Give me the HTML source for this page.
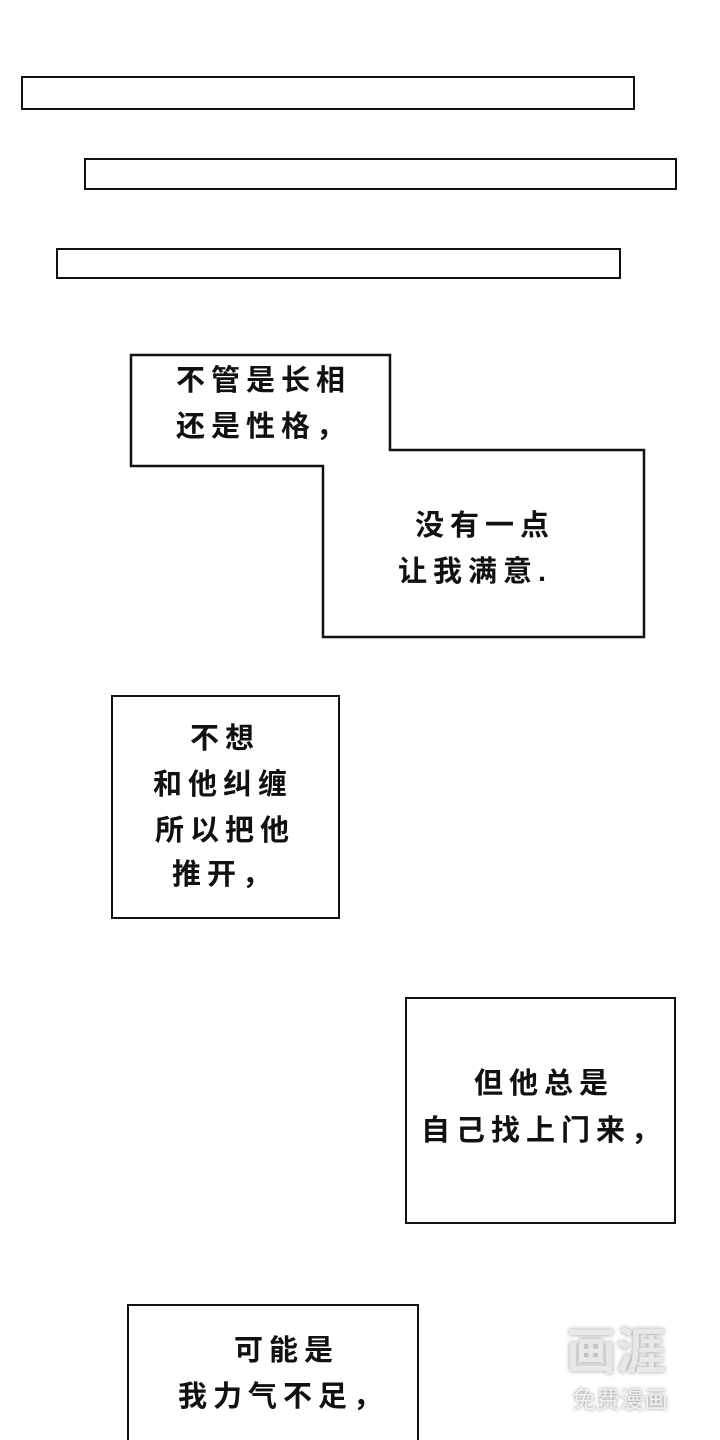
<!DOCTYPE html>
<html><head><meta charset="utf-8"><style>
html,body{margin:0;padding:0;background:#fff;width:720px;height:1440px;overflow:hidden;}
body{position:relative;font-family:"Liberation Sans","Noto Sans CJK SC",sans-serif;}
.b{position:absolute;border:2.5px solid #111;box-sizing:border-box;background:#fff;}
.t{position:absolute;font-size:29px;font-weight:bold;color:#111;line-height:46px;white-space:nowrap;letter-spacing:6px;}
</style></head><body>
<div class="b" style="left:21px;top:76px;width:614px;height:34px"></div>
<div class="b" style="left:84px;top:158px;width:593px;height:32px"></div>
<div class="b" style="left:56px;top:248px;width:565px;height:31px"></div>
<svg style="position:absolute;left:0;top:0" width="720" height="700">
<polygon points="131,355 390,355 390,450 644,450 644,637 323,637 323,466 131,466" fill="#fff" stroke="#111" stroke-width="2.5"/>
</svg>
<div class="t" style="left:176px;top:358px">不管是长相<br>还是性格，</div>
<div class="t" style="left:415px;top:503px">没有一点</div>
<div class="t" style="left:398px;top:549px">让我满意.</div>
<div class="b" style="left:111px;top:695px;width:229px;height:224px"></div>
<div class="t" style="left:190px;top:716px">不想</div>
<div class="t" style="left:153px;top:762px">和他纠缠</div>
<div class="t" style="left:155px;top:808px">所以把他</div>
<div class="t" style="left:172px;top:852px">推开，</div>
<div class="b" style="left:405px;top:997px;width:271px;height:227px"></div>
<div class="t" style="left:474px;top:1061px">但他总是</div>
<div class="t" style="left:421px;top:1108px">自己找上门来，</div>
<div class="b" style="left:127px;top:1304px;width:292px;height:150px"></div>
<div class="t" style="left:234px;top:1328px">可能是</div>
<div class="t" style="left:178px;top:1374px">我力气不足，</div>
<div style="position:absolute;left:566px;top:1318px;font-size:50px;font-weight:bold;color:#e8e8e8;text-shadow:0 0 4px #999;font-family:'Noto Sans CJK SC',sans-serif;line-height:60px">画涯</div>
<div style="position:absolute;left:572px;top:1380px;font-size:24px;color:#f0f0f0;text-shadow:0 0 3px #888;font-family:'Noto Sans CJK SC',sans-serif;">免费漫画</div>
</body></html>
